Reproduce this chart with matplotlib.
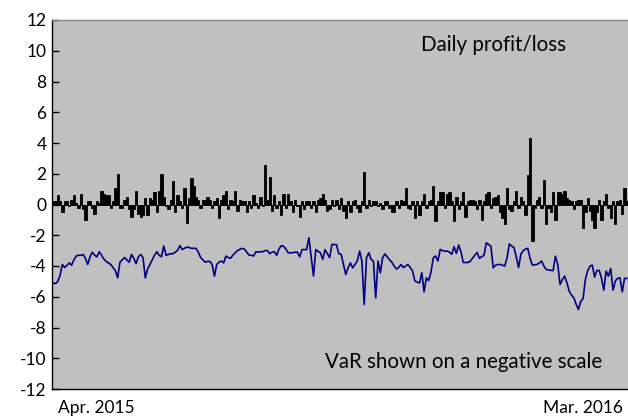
import numpy as np
import matplotlib
matplotlib.use("Agg")
import matplotlib.pyplot as plt

# Daily profit/loss (bars) and VaR (line, shown as negative), Apr. 2015 - Mar. 2016
pnl = [
    0.2, 0.25, 0.6, 0.2, -0.5, 0.2, 0.2, -0.1, 0.3, 0.6,
    0.1, -0.2, 0.7, -0.3, -1.0, 0.2, 0.2, -0.2, -0.6, 0.2,
    0.1, 0.9, 0.7, 0.6, 0.6, -0.2, 0.2, 1.1, 2.0, -0.2,
    -0.2, 0.3, 0.5, -0.3, -0.8, -0.3, 0.9, -0.6, -0.8, -0.7,
    0.4, -0.7, 0.4, 0.3, 0.8, -0.5, 0.9, 2.0, 0.5, -0.1,
    -0.3, 0.3, 1.5, -0.5, 0.6, 0.2, -0.2, 1.1, -1.2, 0.4,
    1.7, 1.2, 0.5, 0.3, -0.2, 0.3, 0.3, 0.5, 0.3, -0.2,
    0.2, 0.4, -0.9, 0.3, 0.6, 0.9, -0.3, 0.3, 0.2, 0.9,
    -0.4, 0.3, 0.2, 0.2, -0.5, 0.2, -0.2, 0.6, 0.1, -0.2,
    0.5, -0.1, 2.6, 0.3, 1.8, -0.4, 0.6, -0.2, 0.2, -0.7,
    0.7, -0.2, 0.7, 0.2, -0.5, 0.3, -0.1, -0.8, 0.2, -0.3,
    0.2, 0.2, -0.2, 0.2, -0.5, 0.3, 0.4, 0.7, 0.3, -0.4,
    -0.3, 0.3, -0.1, 0.3, -0.3, 0.4, -0.4, -0.9, 0.2, -0.5,
    0.2, 0.3, -0.2, -0.5, 0.2, 2.1, -0.2, 0.3, -0.1, 0.2,
    0.2, -0.1, 0.1, -0.3, 0.2, 0.2, -0.2, -0.5, -0.5, 0.2,
    -0.2, 0.3, 0.2, 1.1, -0.2, -0.3, 0.2, -0.9, 0.2, -0.7,
    0.2, 0.7, -0.2, 0.2, 0.3, 1.2, -1.1, 0.2, 0.8, 0.8,
    -0.2, 0.7, 0.8, 0.2, -1.1, 0.5, -0.3, 0.2, 0.8, -0.8,
    0.2, 0.3, 0.3, 0.2, -0.3, 0.3, -1.0, 0.2, 0.7, 0.8,
    -0.2, 0.4, 0.5, 0.6, -0.5, -0.9, -1.3, 1.1, -0.3, -0.4,
    0.2, 0.9, -0.2, 0.5, 0.2, -0.7, 1.9, 4.3, -2.4, -0.2,
    0.3, 0.5, -0.2, 1.6, -1.3, -0.2, -0.5, 0.8, -1.0, 0.8,
    0.8, 0.7, 0.9, 0.4, 0.3, 0.2, -0.3, 0.2, 0.3, 0.3,
    -1.5, -0.5, 0.4, -0.4, -1.0, -1.5, -0.5, 0.3, -1.0, 0.2,
    0.7, -0.2, -0.9, 0.2, -1.3, 0.2, 0.3, -0.6, 1.1, 0.2,
]

var = [
    -5.1, -5.15, -5.0, -4.6, -3.9, -4.1, -3.95, -3.8, -3.95, -3.6,
    -3.35, -3.3, -3.3, -3.25, -3.5, -3.9, -3.4, -3.1, -3.3, -3.4,
    -3.07, -3.3, -3.55, -3.7, -3.8, -3.9, -4.1, -4.3, -4.77, -3.75,
    -3.6, -3.45, -3.6, -3.75, -3.25, -3.5, -3.85, -3.4, -3.25, -3.45,
    -4.77, -4.2, -3.9, -3.6, -3.3, -3.07, -3.3, -3.4, -2.7, -3.3,
    -3.25, -3.2, -3.2, -3.1, -2.98, -2.67, -2.93, -2.85, -2.77, -2.8,
    -2.85, -2.85, -2.85, -3.1, -3.45, -3.6, -3.75, -3.7, -3.7, -3.9,
    -4.66, -3.9, -3.75, -3.68, -3.8, -3.35, -3.45, -3.5, -3.3, -3.14,
    -3.0, -2.92, -2.85, -2.9, -3.1, -3.29, -3.3, -3.35, -3.07, -3.1,
    -3.07, -3.07, -3.0, -2.99, -3.2, -3.1, -3.07, -3.3, -2.9, -2.68,
    -2.72, -2.9, -3.14, -3.14, -3.14, -3.1, -3.1, -3.4, -2.93, -2.93,
    -2.93, -2.16, -3.4, -4.66, -2.93, -3.05, -3.14, -3.57, -2.93, -3.2,
    -3.45, -2.6, -2.6, -2.62, -3.2, -3.24, -3.9, -4.55, -4.12, -3.8,
    -4.12, -3.9, -3.68, -3.03, -3.68, -6.5, -3.46, -3.14, -3.57, -3.68,
    -6.07, -3.68, -4.44, -3.46, -3.21, -3.4, -3.6, -3.75, -4.0, -4.2,
    -4.1, -3.9, -4.1, -4.0, -3.9, -4.1, -4.33, -4.98, -5.05, -5.1,
    -4.44, -5.68, -4.77, -4.95, -4.38, -3.46, -3.35, -3.68, -2.92, -3.0,
    -3.03, -3.03, -3.1, -3.24, -2.75, -3.18, -2.64, -3.07, -3.77, -3.77,
    -3.77, -3.7, -3.5, -3.3, -3.12, -3.5, -3.4, -3.3, -2.49, -2.6,
    -2.71, -4.12, -3.95, -3.9, -3.9, -3.95, -4.0, -3.46, -2.57, -2.7,
    -2.79, -3.4, -4.1, -3.24, -3.0, -2.9, -2.85, -3.5, -3.94, -3.92,
    -3.9, -3.8, -3.68, -4.0, -4.23, -4.25, -4.28, -4.3, -3.36, -3.9,
    -5.2, -4.9, -4.66, -5.1, -5.64, -5.9, -6.07, -6.5, -6.83, -6.3,
    -6.12, -4.88, -4.3, -4.01, -3.94, -4.72, -4.29, -4.29, -4.8, -5.57,
    -4.33, -4.66, -4.16, -5.57, -4.98, -4.8, -4.77, -5.68, -4.8, -4.81,
]

yticks = list(range(-12, 13, 2))
start_label = "Apr. 2015"
end_label = "Mar. 2016"

plt.rcParams['font.family'] = ['Lato', 'DejaVu Sans']

days = np.arange(len(pnl))

fig = plt.figure(figsize=(6.28, 4.16), dpi=100)
ax = fig.add_axes([52 / 628, 27 / 416, 576 / 628, 369 / 416])
ax.set_facecolor('#c0c0c0')

# bars touch each other, edges thicken the band around zero like the original
ax.bar(days, pnl, width=1.0, color='black', edgecolor='black', linewidth=0.6)
ax.plot(days, var, color='#000080', linewidth=1.2)

ax.set_xlim(-0.5, len(pnl) - 0.5)
ax.set_ylim(-12, 12)
ax.set_yticks(yticks)
ax.set_yticklabels([str(t) for t in yticks], fontsize=12.5)
ax.tick_params(axis='y', direction='in', length=5, width=1, pad=4)
ax.set_xticks([])

for s in ['left', 'bottom']:
    ax.spines[s].set_color('black')
    ax.spines[s].set_linewidth(1)
ax.spines['top'].set_color('#8a8a8a')
ax.spines['top'].set_linewidth(1)
ax.spines['right'].set_visible(False)

ax.text(0.01, -0.052, start_label, transform=ax.transAxes, ha='left', va='center', fontsize=12.5)
ax.text(0.991, -0.052, end_label, transform=ax.transAxes, ha='right', va='center', fontsize=12.5)

ax.text(0.64, 0.917, "Daily profit/loss", transform=ax.transAxes,
        ha='left', va='baseline', fontsize=14.8)
ax.text(0.474, 0.056, "VaR shown on a negative scale", transform=ax.transAxes,
        ha='left', va='baseline', fontsize=14.8)

fig.savefig('out.png', dpi=100)
